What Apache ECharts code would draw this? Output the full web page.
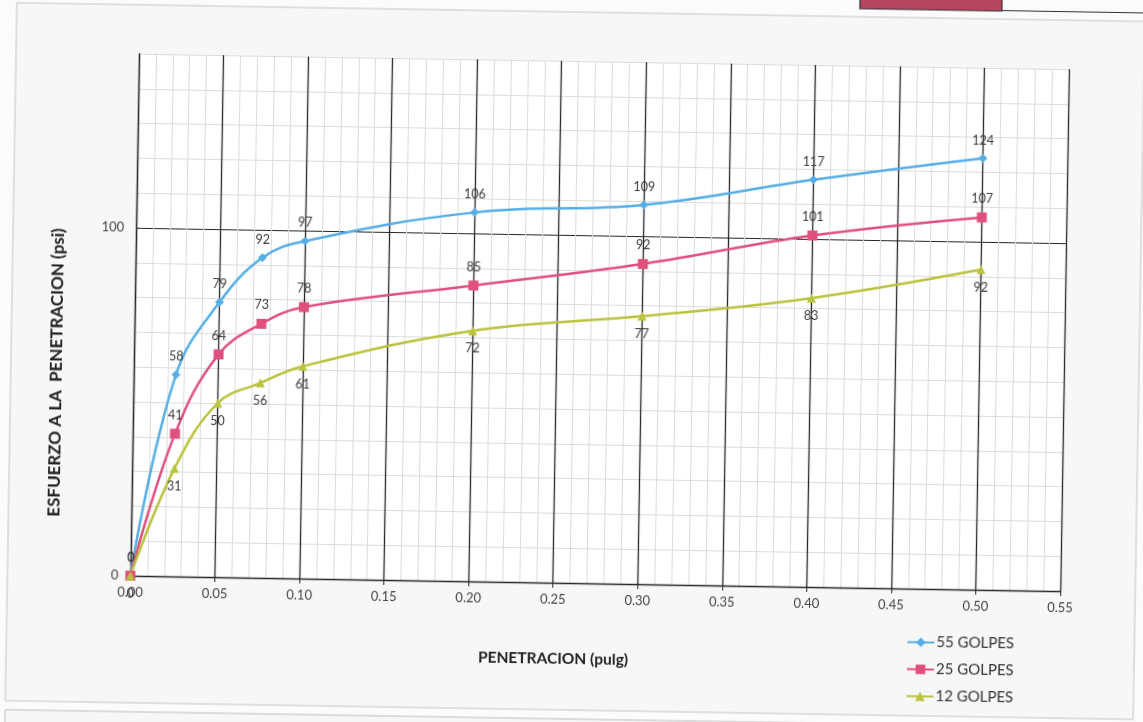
<!DOCTYPE html>
<html>
<head>
<meta charset="utf-8">
<script src="https://cdn.jsdelivr.net/npm/echarts@6/dist/echarts.min.js"></script>
<style>
  html, body { margin: 0; padding: 0; background: #fbfbfb; overflow: hidden; }
  /* the sheet sits slightly askew on the page */
  #chart { position: absolute; left: -20px; top: -20px; width: 1183px; height: 762px;
           transform: rotate(0.95deg); transform-origin: 50% 50%; }
</style>
</head>
<body>
<div id="chart"></div>
<script>
// CBR test: penetration vs. stress for three compaction energies
const penetracion = [0, 0.025, 0.05, 0.075, 0.1, 0.2, 0.3, 0.4, 0.5];
const golpes55 = [0, 58, 79, 92, 97, 106, 109, 117, 124];
const golpes25 = [0, 41, 64, 73, 78, 85, 92, 101, 107];
const golpes12 = [0, 31, 50, 56, 61, 72, 77, 83, 92];
const seriesNames = ['55 GOLPES', '25 GOLPES', '12 GOLPES'];
const yTickLabels = [0, 100];
const xTitle = 'PENETRACION (pulg)';
const yTitle = 'ESFUERZO A LA  PENETRACION (psi)';

const FONT = 'Lato, "Open Sans", sans-serif';
const DARK = '#262626';
const LIGHT = '#dcdcdc';
const M = 20; // margin of the canvas beyond the visible page

const toPairs = (ys) => penetracion.map((x, i) => [x, ys[i]]);

function makeSeries(name, ys, color, symbol, size, labelPos) {
  return {
    name: name,
    type: 'line',
    data: toPairs(ys),
    smooth: 0.4,
    symbol: symbol,
    symbolSize: size,
    lineStyle: { color: color, width: 2.5 },
    itemStyle: { color: color },
    label: {
      show: true,
      position: labelPos,
      distance: 7,
      fontSize: 12.5,
      fontFamily: FONT,
      color: '#3a3a3a'
    },
    z: 3
  };
}

const chart = echarts.init(document.getElementById('chart'), null, { renderer: 'canvas' });

chart.setOption({
  animation: false,
  backgroundColor: 'transparent',
  graphic: [
    // sheet frame around the chart
    { type: 'rect', z: -10, shape: { x: 11 + M, y: 12 + M, width: 1128, height: 698 },
      style: { fill: '#f7f7f7', stroke: '#c4c4c4', lineWidth: 1 } },
    // frame of the next block below
    { type: 'rect', z: -10, shape: { x: 11 + M, y: 719 + M, width: 1128, height: 40 },
      style: { fill: '#f7f7f7', stroke: '#bdbdbd', lineWidth: 1 } },
    // header box at the top
    { type: 'rect', z: -10, shape: { x: 854 + M, y: -20 + M, width: 142, height: 24 },
      style: { fill: '#b6465f', stroke: '#333', lineWidth: 1.2 } },
    { type: 'line', z: -10, shape: { x1: 996 + M, y1: 3.5 + M, x2: 1183, y2: 3.5 + M },
      style: { stroke: '#333', lineWidth: 1.2 } },
    // axis titles
    { type: 'text', x: 558 + M, y: 659 + M,
      style: { text: xTitle, font: 'bold 15.5px ' + FONT, fill: '#222',
               align: 'center', verticalAlign: 'middle' } },
    { type: 'text', x: 57 + M, y: 381 + M, rotation: Math.PI / 2,
      style: { text: yTitle, font: 'bold 17px ' + FONT, fill: '#222',
               align: 'center', verticalAlign: 'middle' } }
  ],
  legend: {
    orient: 'vertical',
    left: 906 + M,
    top: 624 + M,
    itemWidth: 27,
    itemHeight: 12,
    itemGap: 12,
    textStyle: { fontSize: 15, lineHeight: 14, fontFamily: FONT, color: '#333',
                 padding: [0, 0, 0, -3] },
    data: seriesNames
  },
  grid: {
    left: 134 + M, right: 79 + M, top: 61 + M, bottom: 139 + M,
    show: true, backgroundColor: '#ffffff', borderWidth: 0
  },
  xAxis: {
    type: 'value',
    min: 0, max: 0.55, interval: 0.05,
    axisLine: { show: true, onZero: false, lineStyle: { color: DARK, width: 1.3 } },
    axisTick: { show: true, length: 5, lineStyle: { color: DARK } },
    axisLabel: {
      margin: 10, fontSize: 13, fontFamily: FONT, color: '#444',
      formatter: (v) => v.toFixed(2)
    },
    splitLine: { show: true, lineStyle: { color: DARK, width: 1.3 } },
    minorTick: { show: false, splitNumber: 5 },
    minorSplitLine: { show: true, lineStyle: { color: LIGHT, width: 1 } }
  },
  yAxis: {
    type: 'value',
    min: 0, max: 150, interval: 50,
    axisLine: { show: true, lineStyle: { color: DARK, width: 1.3 } },
    axisTick: { show: false },
    axisLabel: {
      margin: 12, fontSize: 13, fontFamily: FONT, color: '#444',
      formatter: (v) => (yTickLabels.indexOf(v) >= 0 ? String(v) : '')
    },
    splitLine: { show: true, lineStyle: { color: [DARK, LIGHT], width: 1.2 } },
    minorTick: { show: false, splitNumber: 5 },
    minorSplitLine: { show: true, lineStyle: { color: LIGHT, width: 1 } }
  },
  series: [
    makeSeries(seriesNames[0], golpes55, '#56aee6', 'diamond', 9, 'top'),
    makeSeries(seriesNames[1], golpes25, '#e0507c', 'rect', 10, 'top'),
    makeSeries(seriesNames[2], golpes12, '#bac33d', 'triangle', 9, 'bottom')
  ]
});
</script>
</body>
</html>
